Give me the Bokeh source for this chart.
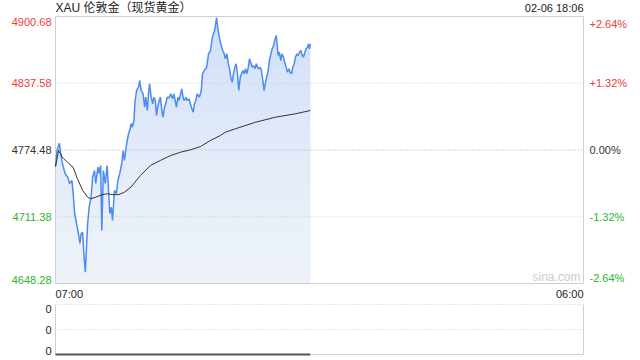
import numpy as np
from bokeh.plotting import figure
from bokeh.models import Range1d, Label
from bokeh.layouts import column
from bokeh.embed import file_html
from bokeh.resources import INLINE

# ---------------- data ----------------
title_text = "XAU 伦敦金（现货黄金）"
stamp_text = "02-06 18:06"
source_text = "sina.com"
prev_close = 4774.48
price_ticks = [4648.28, 4711.38, 4774.48, 4837.58, 4900.68]
pct_ticks = ["-2.64%", "-1.32%", "0.00%", "+1.32%", "+2.64%"]
session_minutes = 1380          # 07:00 -> 06:00 next day
time_labels = ["07:00", "06:00"]

# minutes after 07:00
price_minutes = [0, 4, 10, 13, 18, 25, 32, 37, 43, 46, 50, 55, 60, 64, 67, 71, 74, 78, 81, 84,
                 88, 93, 97, 102, 105, 111, 114, 118, 121, 125, 130, 135, 139, 142, 146, 149, 154, 159, 163, 168,
                 173, 177, 180, 186, 191, 194, 198, 201, 205, 208, 212, 217, 220, 224, 229, 233, 236, 240, 243, 246,
                 250, 254, 257, 261, 264, 267, 271, 274, 278, 281, 285, 288, 292, 297, 301, 306, 309, 313, 316, 320,
                 323, 327, 330, 334, 337, 341, 344, 349, 355, 360, 363, 367, 370, 376, 381, 384, 389, 395, 400, 405,
                 410, 416, 421, 424, 428, 432, 437, 441, 444, 448, 451, 455, 458, 462, 465, 469, 472, 476, 479, 483,
                 486, 490, 493, 497, 500, 504, 507, 510, 514, 517, 521, 525, 528, 531, 535, 538, 542, 545, 549, 552,
                 556, 559, 563, 566, 570, 573, 577, 579, 582, 585, 589, 592, 596, 599, 603, 606, 610, 613, 617, 620,
                 624, 627, 631, 634, 638, 641, 645, 648, 652, 655, 659, 661, 664, 666]
price_values = [4758.88, 4774.01, 4780.91, 4772.40, 4761.72, 4752.26, 4748.77, 4742.81, 4745.65, 4734.59,
                4714.45, 4705.00, 4695.55, 4686.09, 4695.55, 4696.77, 4676.64, 4658.96, 4682.59, 4705.00,
                4720.41, 4729.86, 4748.77, 4755.10, 4742.81, 4758.22, 4752.26, 4759.83, 4698.38, 4755.10,
                4742.81, 4759.83, 4733.36, 4714.45, 4720.41, 4707.83, 4736.19, 4733.36, 4745.65, 4752.26,
                4761.72, 4774.01, 4764.55, 4780.62, 4790.08, 4792.91, 4799.53, 4796.03, 4802.37, 4821.27,
                4830.73, 4833.85, 4840.18, 4830.73, 4827.61, 4814.94, 4824.39, 4811.82, 4827.61, 4837.06,
                4824.39, 4818.15, 4824.39, 4821.27, 4807.09, 4814.94, 4821.27, 4824.39, 4811.82, 4805.49,
                4814.94, 4818.15, 4824.39, 4823.83, 4827.61, 4822.88, 4827.61, 4821.27, 4814.94, 4824.39,
                4821.27, 4827.61, 4832.33, 4822.88, 4821.27, 4824.39, 4821.27, 4822.88, 4814.94, 4810.21,
                4818.15, 4821.27, 4827.61, 4824.39, 4830.73, 4846.51, 4849.63, 4852.75, 4865.42, 4868.54,
                4881.11, 4887.45, 4899.73, 4890.57, 4881.11, 4874.87, 4868.54, 4865.42, 4860.69, 4865.42,
                4857.48, 4851.24, 4843.30, 4838.57, 4846.51, 4852.75, 4855.97, 4844.91, 4830.73, 4843.30,
                4846.51, 4849.63, 4846.51, 4851.24, 4846.51, 4852.75, 4860.69, 4857.48, 4852.75, 4854.36,
                4851.24, 4855.97, 4852.75, 4851.24, 4852.75, 4849.63, 4840.18, 4830.73, 4838.57, 4843.30,
                4849.63, 4859.09, 4865.42, 4870.15, 4873.27, 4877.99, 4882.72, 4874.87, 4863.81, 4866.93,
                4859.09, 4865.42, 4862.21, 4857.48, 4852.75, 4848.03, 4851.24, 4848.03, 4846.51, 4852.75,
                4855.97, 4862.21, 4865.42, 4863.81, 4866.93, 4868.54, 4863.81, 4862.21, 4866.93, 4870.15,
                4871.66, 4874.87, 4870.15, 4874.87]

avg_minutes = [0, 8, 18, 31, 46, 57, 71, 84, 92, 105, 123, 136, 153, 166, 180, 197, 222, 248, 274, 301,
               327, 353, 379, 405, 431, 444, 470, 523, 575, 627, 666]
avg_values = [4758.88, 4774.01, 4767.67, 4762.95, 4758.22, 4747.54, 4736.19, 4729.86, 4728.35, 4729.86,
              4732.41, 4733.07, 4732.13, 4732.41, 4734.59, 4739.31, 4750.37, 4759.83, 4764.55, 4769.28,
              4772.40, 4774.67, 4777.79, 4783.46, 4788.19, 4791.31, 4794.52, 4800.76, 4805.49, 4808.70,
              4811.82]

volume_minutes = [0, 666]
volume_values = [0, 0]
volume_ticks = [0, 0.5, 1]

# ---------------- layout / styles ----------------
FONT = "'Liberation Sans', 'Noto Sans CJK SC', sans-serif"
RED = "#f03a3a"
GREEN = "#2db52d"
DARK = "#333333"
TXT = "#222222"
BORDER = "#d0d0d0"
PAD_L, PAD_R = 55, 57          # px outside the plotting box
FRAME_W = 640 - PAD_L - PAD_R
MAIN_H, MAIN_TOP, MAIN_BOT = 300, 16, 17
VOL_H, VOL_TOP, VOL_BOT = 60, 4, 6

ymin, ymax = price_ticks[0], price_ticks[-1]
mpx = session_minutes / FRAME_W
ppx = (ymax - ymin) / (MAIN_H - MAIN_TOP - MAIN_BOT)

x_range = Range1d(-PAD_L * mpx, session_minutes + PAD_R * mpx)

p = figure(width=640, height=MAIN_H, x_range=x_range,
           y_range=Range1d(ymin - MAIN_BOT * ppx, ymax + MAIN_TOP * ppx),
           output_backend="svg", toolbar_location=None, min_border=0)
p.xaxis.visible = False
p.yaxis.visible = False
p.grid.visible = False
p.outline_line_color = None
p.background_fill_color = "white"
p.border_fill_color = "white"

pm = np.array(price_minutes, dtype=float)
pv = np.array(price_values, dtype=float)

# area fill with vertical fade (stacked translucent white bands)
p.varea(x=pm, y1=ymin, y2=pv, fill_color="#cddef9", fill_alpha=1.0)
n_bands = 20
for lvl in np.linspace(ymin, ymax, n_bands + 2)[1:-1]:
    p.varea(x=pm, y1=ymin, y2=np.minimum(pv, lvl), fill_color="white", fill_alpha=0.065)

# grid lines
inner = price_ticks[1:-1]
p.segment(x0=[0] * len(inner), x1=[session_minutes] * len(inner), y0=inner, y1=inner,
          line_color=["#aaaaaa" if abs(t - prev_close) < 1e-6 else "#cccccc" for t in inner],
          line_dash="1 2", line_width=1)

# frame box
p.quad(left=[0], right=[session_minutes], bottom=[ymin], top=[ymax],
       fill_color=None, line_color=BORDER, line_width=1)

p.line(pm, pv, line_color="#4d8bf0", line_width=1.5)
p.line(avg_minutes, avg_values, line_color=DARK, line_width=1)

def col_for(v):
    if abs(v - prev_close) < 1e-6:
        return DARK
    return RED if v > prev_close else GREEN

for i, (t, pct) in enumerate(zip(price_ticks, pct_ticks)):
    base = "top" if i == len(price_ticks) - 1 else ("bottom" if i == 0 else "middle")
    yy = t - 1 * ppx if i == len(price_ticks) - 1 else t
    c = col_for(t)
    p.add_layout(Label(x=0, y=yy, x_offset=-4, text=f"{t:.2f}", text_align="right", text_baseline=base,
                       text_font=FONT, text_font_size="11px", text_color=c))
    p.add_layout(Label(x=session_minutes, y=yy, x_offset=6, text=pct, text_align="left", text_baseline=base,
                       text_font=FONT, text_font_size="11px", text_color=c))

p.add_layout(Label(x=0, y=ymax + 9 * ppx, text=title_text, text_align="left", text_baseline="middle",
                   text_font=FONT, text_font_size="12px", text_color=TXT))
p.add_layout(Label(x=session_minutes, y=ymax + 8.5 * ppx, text=stamp_text, text_align="right",
                   text_baseline="middle", text_font=FONT, text_font_size="11px", text_color=TXT))
p.add_layout(Label(x=session_minutes, y=ymin, x_offset=-3, text=source_text, text_align="right",
                   text_baseline="bottom", text_font=FONT, text_font_size="12px", text_color="#cccccc"))
p.add_layout(Label(x=0, y=ymin - 10 * ppx, text=time_labels[0], text_align="left", text_baseline="middle",
                   text_font=FONT, text_font_size="11px", text_color=TXT))
p.add_layout(Label(x=session_minutes, y=ymin - 10 * ppx, text=time_labels[1], text_align="right",
                   text_baseline="middle", text_font=FONT, text_font_size="11px", text_color=TXT))

# ---------------- volume panel ----------------
vmin, vmax = volume_ticks[0], volume_ticks[-1]
vpx = (vmax - vmin) / (VOL_H - VOL_TOP - VOL_BOT)
p2 = figure(width=640, height=VOL_H, x_range=x_range,
            y_range=Range1d(vmin - VOL_BOT * vpx, vmax + VOL_TOP * vpx),
            output_backend="svg", toolbar_location=None, min_border=0)
p2.xaxis.visible = False
p2.yaxis.visible = False
p2.grid.visible = False
p2.outline_line_color = None
p2.background_fill_color = "white"
p2.border_fill_color = "white"

# dotted top / middle rules, solid sides and bottom
p2.segment(x0=[0, 0], x1=[session_minutes, session_minutes], y0=volume_ticks[1:], y1=volume_ticks[1:],
           line_color="#cccccc", line_dash="1 2")
p2.segment(x0=[0, session_minutes, 0], x1=[0, session_minutes, session_minutes],
           y0=[vmin, vmin, vmin], y1=[vmax, vmax, vmin], line_color=BORDER)

p2.line(volume_minutes, volume_values, line_color="#555555", line_width=2)

for i, t in enumerate(volume_ticks):
    base = "bottom" if i == 0 else ("top" if i == len(volume_ticks) - 1 else "middle")
    p2.add_layout(Label(x=0, y=t, x_offset=-4, text="0", text_align="right", text_baseline=base,
                        text_font=FONT, text_font_size="11px", text_color=TXT))

layout = column(p, p2, spacing=0)
open("out.html", "w").write(file_html(layout, INLINE))
